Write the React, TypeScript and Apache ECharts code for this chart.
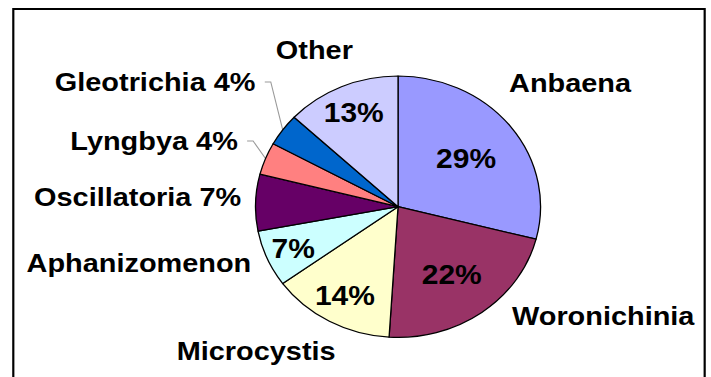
import React, { useEffect, useRef } from "react";
import * as echarts from "echarts";

// ---- data ----
const categories = [
  "Anbaena",
  "Woronichinia",
  "Microcystis",
  "Aphanizomenon",
  "Oscillatoria",
  "Lyngbya",
  "Gleotrichia",
  "Other",
];
const shares = [29, 22, 14, 7, 7, 4, 4, 13];
const sliceColors = [
  "#9999FF",
  "#993366",
  "#FFFFCC",
  "#CCFFFF",
  "#660066",
  "#FF8080",
  "#0066CC",
  "#CCCCFF",
];
// which slices carry their percentage inside, which carry it next to the name
const pctInside = [true, true, true, true, false, false, false, true];
const pctInName = [false, false, false, false, true, true, true, false];
const hasLeader = [false, false, false, false, false, true, true, false];

// ---- layout (unscaled chart coordinates; the chart is stretched horizontally) ----
const CHART_W = 652;
const CHART_H = 377;
const STRETCH = 711 / CHART_W;
const CX = 365;
const CY = 206.7;
const R = 130.7;
// inside label distance as fraction of radius
const insideFrac = [0.578, 0.613, 0.74, 0.766, 0.5, 0.5, 0.5, 0.748];
const outerAnchors: { x: number; y: number; align: string }[] = [
  { x: 466.8, y: 82.7, align: "left" },
  { x: 469.5, y: 316, align: "left" },
  { x: 234.9, y: 350.5, align: "center" },
  { x: 230.4, y: 262.5, align: "right" },
  { x: 221.2, y: 197, align: "right" },
  { x: 218.1, y: 141, align: "right" },
  { x: 234.3, y: 82, align: "right" },
  { x: 288.3, y: 49.7, align: "center" },
];

const FONT = "'Liberation Sans', Arial, Helvetica, sans-serif";

export default function App() {
  const ref = useRef<HTMLDivElement>(null);

  useEffect(() => {
    if (!ref.current) return;
    const chart = echarts.init(ref.current, null, { renderer: "svg" });

    const mainData = categories.map((name, i) => ({
      name,
      value: shares[i],
      itemStyle: { color: sliceColors[i] },
      label: { show: pctInside[i] },
    }));

    const overlayData = categories.map((name, i) => ({
      name,
      value: shares[i],
      labelLine: { show: hasLeader[i] },
    }));

    chart.setOption({
      animation: false,
      backgroundColor: "#ffffff",
      graphic: [
        {
          type: "rect",
          shape: { x: 12.2, y: 9, width: 634, height: 420 },
          style: { fill: "none", stroke: "#000", lineWidth: 2 },
          silent: true,
        },
      ],
      series: [
        {
          type: "pie",
          center: [CX, CY],
          radius: R,
          startAngle: 90,
          clockwise: true,
          avoidLabelOverlap: false,
          minShowLabelAngle: 0,
          data: mainData,
          itemStyle: { borderColor: "#000", borderWidth: 1.2 },
          label: {
            position: "inside",
            formatter: (p: any) => `${p.value}%`,
            fontFamily: FONT,
            fontWeight: "bold",
            fontSize: 27.5,
            color: "#000",
          },
          labelLine: { show: false },
          labelLayout: (params: any) => {
            const rct = params.labelRect;
            const lx = rct.x + rct.width / 2;
            const ly = rct.y + rct.height / 2;
            const k = insideFrac[params.dataIndex] / 0.5;
            return {
              x: CX + (lx - CX) * k,
              y: CY + (ly - CY) * k,
              align: "center",
              verticalAlign: "middle",
            };
          },
          emphasis: { disabled: true },
        },
        {
          type: "pie",
          center: [CX, CY],
          radius: R,
          startAngle: 90,
          clockwise: true,
          avoidLabelOverlap: false,
          minShowLabelAngle: 0,
          silent: true,
          data: overlayData,
          itemStyle: { color: "rgba(0,0,0,0)", borderWidth: 0 },
          label: {
            position: "outside",
            formatter: (p: any) =>
              pctInName[p.dataIndex] ? `${p.name} ${p.value}%` : p.name,
            fontFamily: FONT,
            fontWeight: "bold",
            fontSize: 26.5,
            color: "#000",
          },
          labelLine: {
            length: 10,
            length2: 10,
            smooth: false,
            lineStyle: { color: "#9a9a9a", width: 1 },
          },
          labelLayout: (params: any) => {
            const a = outerAnchors[params.dataIndex];
            const out: any = {
              x: a.x,
              y: a.y,
              align: a.align,
              verticalAlign: "middle",
            };
            if (hasLeader[params.dataIndex] && params.labelLinePoints) {
              const edge = params.labelLinePoints[0];
              out.labelLinePoints = [
                [edge[0], edge[1]],
                [a.x + 14, a.y],
                [a.x + 8.5, a.y],
              ];
            }
            return out;
          },
          emphasis: { disabled: true },
        },
      ],
    });

    return () => chart.dispose();
  }, []);

  return (
    <div
      style={{
        position: "absolute",
        left: 0,
        top: 0,
        width: 711,
        height: CHART_H,
        overflow: "hidden",
        background: "#fff",
      }}
    >
      <div
        ref={ref}
        style={{
          width: CHART_W,
          height: CHART_H,
          transform: `scaleX(${STRETCH})`,
          transformOrigin: "0 0",
        }}
      />
    </div>
  );
}
